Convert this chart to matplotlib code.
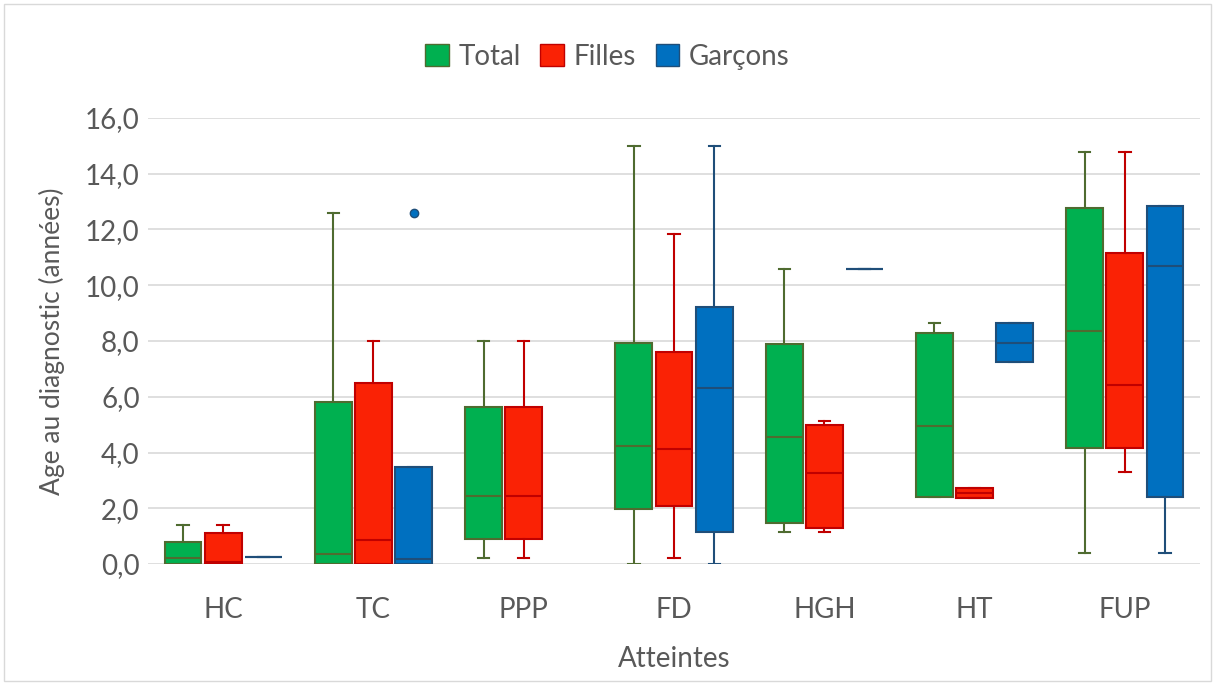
import numpy as np
import matplotlib.pyplot as plt
from matplotlib.patches import Patch
from matplotlib.ticker import FuncFormatter

plt.rcParams['font.family'] = ['Lato', 'DejaVu Sans']

categories = ['HC', 'TC', 'PPP', 'FD', 'HGH', 'HT', 'FUP']
series = ['Total', 'Filles', 'Garçons']

# (whislo, q1, med, q3, whishi) per category, None = no data
total = [(0.0, 0.0, 0.2, 0.8, 1.4),
         (0.0, 0.0, 0.36, 5.82, 12.6),
         (0.2, 0.88, 2.45, 5.64, 8.0),
         (0.0, 1.96, 4.25, 7.93, 15.0),
         (1.14, 1.48, 4.56, 7.88, 10.6),
         (2.39, 2.41, 4.96, 8.27, 8.63),
         (0.38, 4.15, 8.36, 12.77, 14.78)]
filles = [(0.0, 0.0, 0.08, 1.1, 1.4),
          (0.0, 0.0, 0.86, 6.5, 8.0),
          (0.2, 0.88, 2.45, 5.64, 8.0),
          (0.2, 2.08, 4.11, 7.61, 11.83),
          (1.14, 1.3, 3.25, 5.0, 5.13),
          (2.38, 2.38, 2.53, 2.71, 2.71),
          (3.29, 4.15, 6.42, 11.16, 14.78)]
garcons = [(0.25, 0.25, 0.25, 0.25, 0.25),
           (0.0, 0.0, 0.18, 3.49, 3.49),
           None,
           (0.0, 1.16, 6.33, 9.22, 15.0),
           (10.6, 10.6, 10.6, 10.6, 10.6),
           (7.23, 7.23, 7.93, 8.63, 8.63),
           (0.38, 2.41, 10.69, 12.86, 12.86)]
fliers = {('Garçons', 'TC'): [12.6]}

face = ['#00B050', '#FA2205', '#0070C0']
edge = ['#4F6B30', '#C00000', '#1F4E79']

fig = plt.figure(figsize=(12.15, 6.84), dpi=100)
ax = fig.add_axes([0.1218, 0.1754, 0.8659, 0.6521])

offsets = [-0.267, 0.0, 0.267]
for s, (name, data) in enumerate(zip(series, [total, filles, garcons])):
    stats, pos = [], []
    for i, d in enumerate(data):
        if d is None:
            continue
        lo, q1, med, q3, hi = d
        stats.append(dict(whislo=lo, q1=q1, med=med, q3=q3, whishi=hi,
                          fliers=fliers.get((name, categories[i]), [])))
        pos.append(i + offsets[s])
    ax.bxp(stats, positions=pos, widths=0.245, capwidths=0.075,
           patch_artist=True, manage_ticks=False,
           boxprops=dict(facecolor=face[s], edgecolor=edge[s], linewidth=1.5),
           medianprops=dict(color=edge[s], linewidth=1.5),
           whiskerprops=dict(color=edge[s], linewidth=1.5),
           capprops=dict(color=edge[s], linewidth=1.5),
           flierprops=dict(marker='o', markersize=6, markerfacecolor=face[s],
                           markeredgecolor=edge[s]))

ax.set_xlim(-0.5, len(categories) - 0.5)
ax.set_ylim(0, 16)
ax.set_yticks(np.arange(0, 17, 2))
ax.yaxis.set_major_formatter(FuncFormatter(lambda v, p: f'{v:.1f}'.replace('.', ',')))
ax.set_xticks(range(len(categories)))
ax.set_xticklabels(categories)
ax.grid(axis='y', color='#D9D9D9', linewidth=1.2)
ax.set_axisbelow(True)
for sp in ax.spines.values():
    sp.set_visible(False)
ax.tick_params(length=0, labelsize=20, colors='#595959')
ax.tick_params(axis='x', pad=24)
ax.tick_params(axis='y', pad=6)
ax.set_xlabel('Atteintes', fontsize=20, color='#595959', labelpad=16)
ax.set_ylabel('Age au diagnostic (années)', fontsize=19, color='#595959', labelpad=14)

handles = [Patch(facecolor=face[i], edgecolor=edge[i], label=series[i]) for i in range(3)]
fig.legend(handles=handles, loc='center', bbox_to_anchor=(0.5, 0.917), ncol=3,
           frameon=False, fontsize=20, labelcolor='#595959', handlelength=0.85,
           handleheight=0.85, handletextpad=0.35, columnspacing=0.7)

fig.patches.append(plt.Rectangle((0.003, 0.004), 0.994, 0.99, transform=fig.transFigure,
                                 fill=False, edgecolor='#D9D9D9', linewidth=1))
fig.savefig('out.png', dpi=100)
